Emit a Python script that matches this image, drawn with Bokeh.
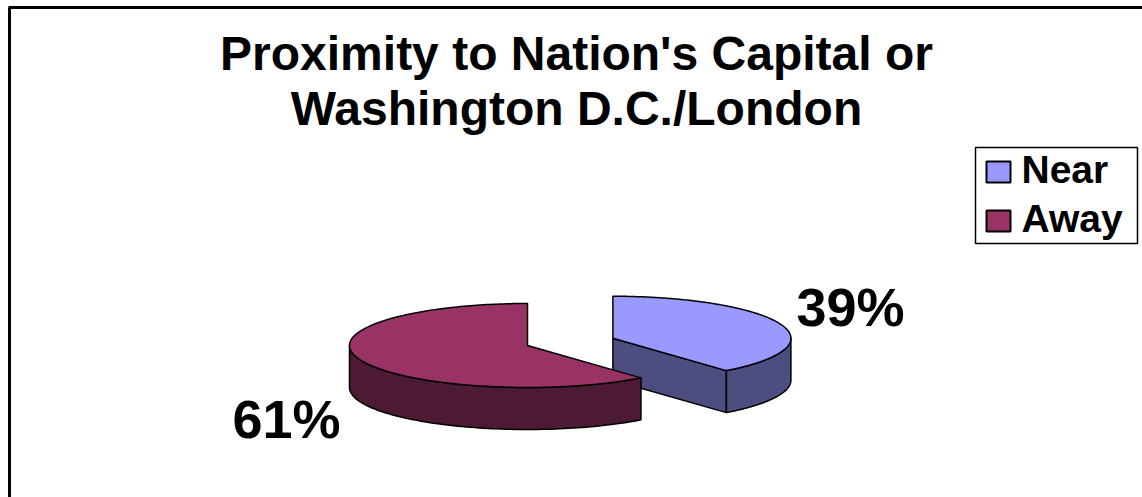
import numpy as np
from bokeh.plotting import figure
from bokeh.models import Range1d
from bokeh.embed import file_html
from bokeh.resources import INLINE
from bokeh.core.properties import value

# ---- data ----
categories = ["Near", "Away"]
shares = [39, 61]
pct_labels = ["39%", "61%"]
top_colors = ["#9999FF", "#993366"]
side_colors = ["#4D4D80", "#4C1A33"]
explode = [0.51, 0.0]
title_lines = ["Proximity to Nation's Capital or", "Washington D.C./London"]

FONT = "Liberation Sans"
W, H = 1142, 497
p = figure(width=W, height=H, x_range=Range1d(0, W), y_range=Range1d(H, 0),
           output_backend="svg", toolbar_location=None, min_border=0)
p.axis.visible = False
p.grid.visible = False
p.outline_line_color = None
p.background_fill_color = "white"
p.border_fill_color = "white"

# outer chart-area border (top and left visible)
p.line([8, 1142], [7, 7], line_color="black", line_width=3)
p.line([9, 9], [7, 497], line_color="black", line_width=3)

# ---- 3D pie geometry ----
cx, cy, rx, ry, depth = 527.0, 345.0, 178.0, 42.0, 42.0


def pt(c, th):
    return c[0] + rx * np.cos(th), c[1] - ry * np.sin(th)


def arc(c, a, b, n=90):
    th = np.radians(np.linspace(a, b, n))
    return c[0] + rx * np.cos(th), c[1] - ry * np.sin(th)


kw = dict(line_color="black", line_width=1.5, line_join="round")
start = 90.0
slices = []
for cat, s, e, tc, sc in zip(categories, shares, explode, top_colors, side_colors):
    a0 = start
    a1 = start - s / 100.0 * 360.0
    start = a1
    b = np.radians((a0 + a1) / 2)
    c = (cx + e * rx * np.cos(b), cy - e * ry * np.sin(b))
    slices.append((a0, a1, c, tc, sc))

for a0, a1, c, tc, sc in slices:
    # radial faces
    for edge, ndir in ((a0, a0 + 90), (a1, a1 - 90)):
        if np.sin(np.radians(ndir)) < -1e-6:
            ox, oy = pt(c, np.radians(edge))
            p.patch([c[0], ox, ox, c[0]], [c[1], oy, oy + depth, c[1] + depth],
                    fill_color=sc, **kw)
    # outer side (front half visible)
    lo, hi = max(a1, -180.0), min(a0, 0.0)
    if hi > lo:
        xs, ys = arc(c, lo, hi)
        p.patch(list(xs) + list(xs[::-1]), list(ys) + list((ys + depth)[::-1]),
                fill_color=sc, **kw)
    # top face
    xs, ys = arc(c, a0, a1, 200)
    p.patch([c[0]] + list(xs), [c[1]] + list(ys), fill_color=tc, **kw)

# ---- percentage labels ----
label_pos = [(796, 306), (232, 418)]
p.text(x=[q[0] for q in label_pos], y=[q[1] for q in label_pos], text=pct_labels,
       text_font=value(FONT), text_font_style="bold", text_font_size="54px",
       text_align="left", text_baseline="alphabetic", text_color="black")

# ---- title ----
p.text(x=[576, 576], y=[53, 108], text=title_lines,
       text_font=value(FONT), text_font_style="bold", text_font_size="48px",
       text_align="center", text_baseline="alphabetic", text_color="black")

# ---- legend ----
p.quad(left=[975], right=[1137], top=[147], bottom=[243], fill_color="white",
       line_color="black", line_width=1.5)
sw_top = [161, 210]
p.quad(left=[986, 986], right=[1010, 1010], top=sw_top, bottom=[t + 21 for t in sw_top],
       fill_color=top_colors, line_color="black", line_width=2)
p.text(x=[1021, 1021], y=[169, 218], text=categories,
       text_font=value(FONT), text_font_style="bold", text_font_size="39px",
       text_align="left", text_baseline="alphabetic", text_color="black")

open("out.html", "w").write(file_html(p, INLINE))
